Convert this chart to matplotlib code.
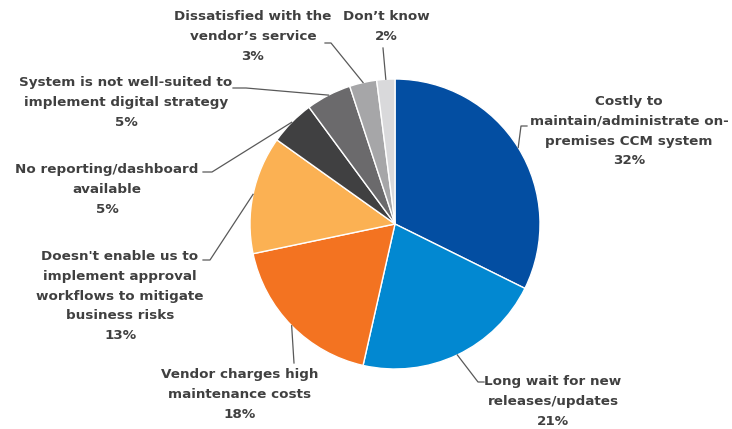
import matplotlib.pyplot as plt
import numpy as np

labels = [
    "Costly to\nmaintain/administrate on-\npremises CCM system",
    "Long wait for new\nreleases/updates",
    "Vendor charges high\nmaintenance costs",
    "Doesn't enable us to\nimplement approval\nworkflows to mitigate\nbusiness risks",
    "No reporting/dashboard\navailable",
    "System is not well-suited to\nimplement digital strategy",
    "Dissatisfied with the\nvendor\u2019s service",
    "Don\u2019t know",
]
values = [32, 21, 18, 13, 5, 5, 3, 2]
colors = ["#034ea2", "#0288d1", "#f37321", "#fbb153",
          "#404041", "#6b6a6c", "#a6a6a8", "#d9d9db"]

W, H = 732, 429
cx, cy, r = 395, 224, 145  # pie centre / radius in pixels (y from top)

# label centre (x, y of first line, from top) and elbow point of the leader line
label_pos = [(629, 102), (553, 382), (240, 375), (120, 257),
             (107, 170), (126, 83), (253, 17), (386, 17)]
elbows = [[(527, 126), (521, 126)],
          [(484, 382), (478, 382)],
          [(294, 363)],
          [(203, 260), (210, 260)],
          [(203, 172), (212, 172)],
          [(233, 88), (246, 88)],
          [(325, 43), (331, 43)],
          [(383, 48)]]

fig = plt.figure(figsize=(W / 100, H / 100), dpi=100)
ax = fig.add_axes([0, 0, 1, 1])

wedges, _ = ax.pie(values, colors=colors, startangle=90, counterclock=False,
                   center=(cx, H - cy), radius=r,
                   wedgeprops=dict(edgecolor="white", linewidth=1))
ax.set_xlim(0, W)
ax.set_ylim(0, H)
ax.set_aspect("equal")
ax.axis("off")

text_color = "#404040"
for w, lab, val, (tx, ty), elb in zip(wedges, labels, values, label_pos, elbows):
    ang = np.deg2rad((w.theta1 + w.theta2) / 2)
    ax_pt = (cx + r * np.cos(ang), H - cy + r * np.sin(ang))
    pts = [(x, H - y) for x, y in elb] + [ax_pt]
    ax.plot([p[0] for p in pts], [p[1] for p in pts], color="#595959", lw=0.9)
    ax.text(tx, H - ty + 7, f"{lab}\n{val}%", ha="center", va="top",
            fontsize=9.7, fontweight="bold", family="DejaVu Sans", color=text_color,
            linespacing=1.68)

fig.savefig("out.png", dpi=100)
